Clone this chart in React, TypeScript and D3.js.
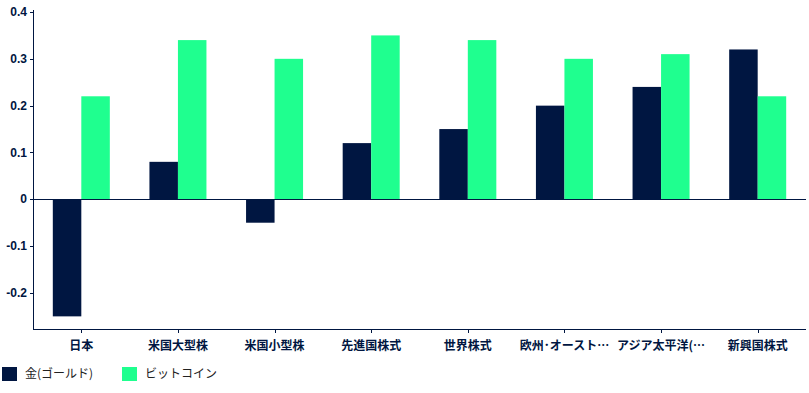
import React, { useEffect, useRef } from 'react'
import * as d3 from 'd3'

const categories = ['日本', '米国大型株', '米国小型株', '先進国株式', '世界株式', '欧州･オースト…', 'アジア太平洋(…', '新興国株式']
const goldValues = [-0.25, 0.08, -0.05, 0.12, 0.15, 0.2, 0.24, 0.32]
const bitcoinValues = [0.22, 0.34, 0.3, 0.35, 0.34, 0.3, 0.31, 0.22]
const seriesNames = ['金(ゴールド)', 'ビットコイン']
const seriesColors = ['#001641', '#1fff8f']
const yTicks = [-0.2, -0.1, 0, 0.1, 0.2, 0.3, 0.4]

const W = 809
const H = 393
const NAVY = '#001641'

const App = () => {
    const ref = useRef<SVGSVGElement>(null)

    useEffect(() => {
        const svg = d3.select(ref.current)
        svg.selectAll('*').remove()

        const left = 33, right = 806, top = 12, bottom = 329

        const x = d3.scaleBand().domain(categories).range([left, right])
        // two bars per category, ~20px of air either side
        const inner = d3.scaleBand().domain(['0', '1']).range([0, x.bandwidth()]).paddingOuter(0.695)
        const y = d3.scaleLinear().domain([-0.277, 0.4]).range([bottom, top])

        const font = '"Noto Sans CJK JP", "Liberation Sans", sans-serif'

        // bars
        const series = [goldValues, bitcoinValues]
        series.forEach((vals, si) => {
            svg.append('g').selectAll('rect')
                .data(vals)
                .enter().append('rect')
                .attr('x', (d, i) => (x(categories[i]) as number) + (inner(String(si)) as number))
                .attr('width', inner.bandwidth())
                .attr('y', d => y(Math.max(0, d)))
                .attr('height', d => Math.abs(y(d) - y(0)))
                .attr('fill', seriesColors[si])
        })

        // y axis
        svg.append('line').attr('x1', left + 0.5).attr('x2', left + 0.5)
            .attr('y1', top - 2).attr('y2', bottom).attr('stroke', NAVY)
        svg.append('g').selectAll('line').data(yTicks).enter().append('line')
            .attr('x1', left - 3).attr('x2', left)
            .attr('y1', d => Math.round(y(d)) + 0.5).attr('y2', d => Math.round(y(d)) + 0.5)
            .attr('stroke', NAVY)
        svg.append('g').selectAll('text').data(yTicks).enter().append('text')
            .attr('x', left - 6).attr('y', d => y(d))
            .attr('dy', '0.35em')
            .attr('text-anchor', 'end')
            .attr('font-family', '"Liberation Sans Narrow", "Liberation Sans", sans-serif')
            .attr('font-weight', 'bold')
            .attr('font-size', 12)
            .attr('fill', NAVY)
            .text(d => d === 0 ? '0' : String(d))

        // zero line
        svg.append('line').attr('x1', left).attr('x2', right)
            .attr('y1', Math.round(y(0)) + 0.5).attr('y2', Math.round(y(0)) + 0.5)
            .attr('stroke', NAVY)

        // bottom category axis
        svg.append('line').attr('x1', left).attr('x2', right)
            .attr('y1', bottom + 0.5).attr('y2', bottom + 0.5).attr('stroke', NAVY)
        svg.append('g').selectAll('line').data(categories).enter().append('line')
            .attr('x1', d => Math.round((x(d) as number) + x.bandwidth() / 2) + 0.5)
            .attr('x2', d => Math.round((x(d) as number) + x.bandwidth() / 2) + 0.5)
            .attr('y1', bottom).attr('y2', bottom + 4)
            .attr('stroke', NAVY)
        svg.append('g').selectAll('text').data(categories).enter().append('text')
            .attr('x', d => (x(d) as number) + x.bandwidth() / 2)
            .attr('y', 350)
            .attr('text-anchor', 'middle')
            .attr('font-family', font)
            .attr('font-weight', 'bold')
            .attr('font-size', 12)
            .attr('fill', NAVY)
            .text(d => d)

        // legend
        const lg = svg.append('g')
        seriesNames.forEach((name, i) => {
            const lx = 2 + i * 120
            lg.append('rect').attr('x', lx).attr('y', 367).attr('width', 15).attr('height', 14)
                .attr('fill', seriesColors[i])
            lg.append('text').attr('x', lx + 23).attr('y', 378)
                .attr('font-family', font)
                .attr('font-size', 12)
                .attr('fill', '#222')
                .text(name)
        })
    }, [])

    return (
        <svg ref={ref} width={W} height={H}
            style={{ position: 'absolute', left: 0, top: 0, background: '#fff' }} />
    )
}

export default App
